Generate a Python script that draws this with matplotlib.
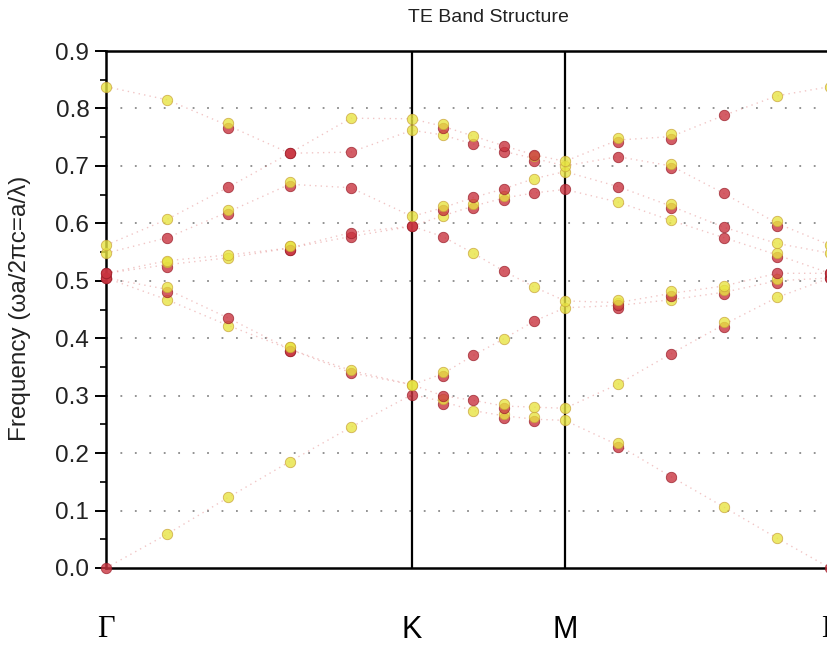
import numpy as np
import matplotlib
matplotlib.use("Agg")
import matplotlib.pyplot as plt
import matplotlib.transforms as mtransforms
from matplotlib.ticker import MultipleLocator, FormatStrFormatter

# High-symmetry path of the hexagonal lattice: Γ → K → M → Γ
k_labels = ["Γ", "K", "M", "Γ"]
k_vertex = [0.0, 1.0, 1.5, 1.5 + np.sqrt(3) / 2]
n_seg = 5  # intervals per segment

# Normalised frequencies (ωa/2πc), bands sorted by rank at each k-point
band_1 = [0.000, 0.059, 0.123, 0.185, 0.245, 0.302, 0.290, 0.274, 0.265, 0.259, 0.257, 0.214, 0.159, 0.106, 0.052, 0.000]
band_2 = [0.505, 0.467, 0.422, 0.381, 0.340, 0.319, 0.300, 0.292, 0.282, 0.280, 0.278, 0.320, 0.373, 0.424, 0.471, 0.505]
band_3 = [0.505, 0.485, 0.435, 0.381, 0.344, 0.319, 0.338, 0.370, 0.399, 0.430, 0.453, 0.457, 0.467, 0.480, 0.500, 0.505]
band_4 = [0.513, 0.528, 0.540, 0.557, 0.577, 0.595, 0.577, 0.548, 0.517, 0.489, 0.465, 0.462, 0.478, 0.491, 0.513, 0.513]
band_5 = [0.513, 0.535, 0.545, 0.557, 0.584, 0.595, 0.613, 0.630, 0.644, 0.653, 0.659, 0.637, 0.605, 0.575, 0.545, 0.513]
band_6 = [0.548, 0.575, 0.620, 0.668, 0.662, 0.612, 0.627, 0.645, 0.660, 0.678, 0.690, 0.664, 0.630, 0.593, 0.565, 0.548]
band_7 = [0.562, 0.607, 0.663, 0.722, 0.724, 0.762, 0.754, 0.738, 0.725, 0.713, 0.700, 0.716, 0.700, 0.652, 0.600, 0.562]
band_8 = [0.838, 0.815, 0.770, 0.722, 0.783, 0.782, 0.769, 0.752, 0.735, 0.719, 0.708, 0.745, 0.751, 0.788, 0.822, 0.838]
bands = [band_1, band_2, band_3, band_4, band_5, band_6, band_7, band_8]

# Mode class at each k-point: r = red set, y = yellow set, b = found in both sets
band_sets = [
    "ryyyyrbybbybryyr",
    "ryybryrrbyyyrbyr",
    "rbrbyybryrybybbr",
    "rbybrrryryybbyrr",
    "ryybrrybbrryyrbr",
    "yrbbrybrryyrbryy",
    "yyrrryyrrbyrbrby",
    "yybryybyrrybbryy",
]

RED = "#c93440"
YELLOW = "#e8e443"

k_path = np.concatenate(
    [np.linspace(k_vertex[i], k_vertex[i + 1], n_seg + 1)[(1 if i else 0):]
     for i in range(len(k_vertex) - 1)]
)

fig = plt.figure(figsize=(8.28, 6.46), dpi=100)
ax = fig.add_axes([106 / 828, 78 / 646, 724 / 828, 517 / 646])

ax.set_xlim(k_vertex[0], k_vertex[-1])
ax.set_ylim(0.0, 0.9)

# dotted horizontal grid
for yv in np.arange(0.1, 0.85, 0.1):
    ax.axhline(yv, color="#8a8a8a", lw=1.3, ls=(0, (1, 7)), zorder=1)

# high-symmetry verticals
for kv in k_vertex[1:-1]:
    ax.axvline(kv, color="black", lw=1.6, zorder=2)

# faint dotted band lines
for b in bands:
    ax.plot(k_path, b, color="#e08080", lw=1.0, ls=(0, (1, 3)), alpha=0.45, zorder=2)

down = ax.transData + mtransforms.ScaledTranslation(0, -1.6 / 72, fig.dpi_scale_trans)
up = ax.transData + mtransforms.ScaledTranslation(0, 1.6 / 72, fig.dpi_scale_trans)

mk = dict(marker="o", ms=7.5, ls="none", alpha=0.8, mew=0.6, clip_on=False, zorder=4)
for b, s in zip(bands, band_sets):
    b = np.asarray(b)
    codes = np.array(list(s))
    r = codes == "r"
    y = codes == "y"
    both = codes == "b"
    ax.plot(k_path[r], b[r], mfc=RED, mec="#9a1f2a", **mk)
    ax.plot(k_path[y], b[y], mfc=YELLOW, mec="#c9a23a", **mk)
    ax.plot(k_path[both], b[both], mfc=RED, mec="#9a1f2a", transform=down, **mk)
    ax.plot(k_path[both], b[both], mfc=YELLOW, mec="#c9a23a", transform=up, **mk)

# axes styling
for side in ("top", "bottom", "left", "right"):
    ax.spines[side].set_linewidth(1.8)
ax.yaxis.set_major_locator(MultipleLocator(0.1))
ax.yaxis.set_minor_locator(MultipleLocator(0.05))
ax.yaxis.set_major_formatter(FormatStrFormatter("%.1f"))
ax.tick_params(axis="y", which="major", direction="out", length=8, width=1.4,
               labelsize=17.5, pad=4, labelcolor="#222222")
ax.tick_params(axis="y", which="minor", direction="out", length=4.5, width=1.2)
for lab in ax.get_yticklabels():
    lab.set_family("Liberation Sans")

ax.set_xticks(k_vertex)
ax.set_xticklabels(k_labels)
ax.tick_params(axis="x", length=0, pad=34, labelsize=22)
for lab in ax.get_xticklabels():
    if lab.get_text() == "Γ":
        lab.set_family("Liberation Serif")
    else:
        lab.set_family("Liberation Sans")

fig.text(20 / 828, 1 - 308 / 646, "Frequency (ωa/2πc=a/λ)", rotation=90,
         ha="center", va="center", fontsize=17.5, family=["Liberation Sans", "DejaVu Sans"],
         color="#222222")
fig.text(488 / 828, 1 - 18 / 646, "TE Band Structure", ha="center", va="center",
         fontsize=14, family="Liberation Sans", color="#222222")

fig.savefig("out.png", dpi=100)
